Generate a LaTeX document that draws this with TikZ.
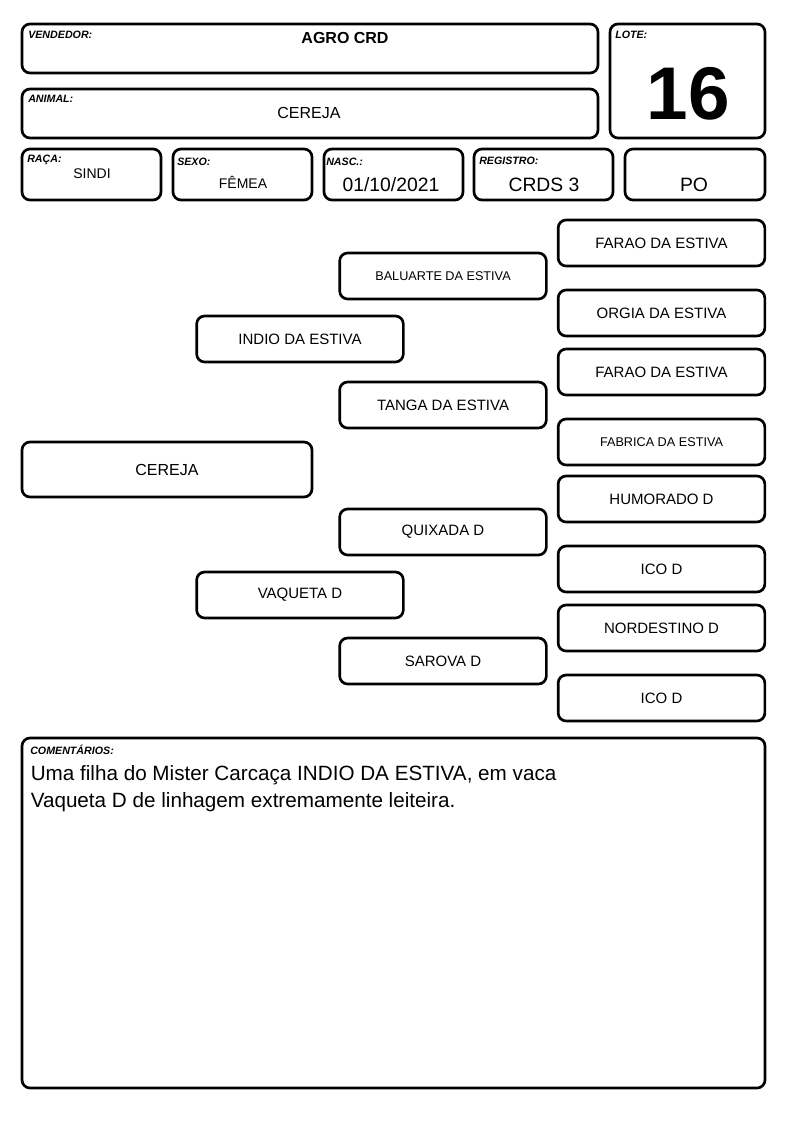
\documentclass[tikz,border=0pt]{standalone}
\usepackage{fontspec}
\setmainfont{Liberation Sans}
\tikzset{
  caixa/.style={line width=2pt, rounded corners=6pt},
  rotulo/.style={anchor=base west, inner sep=0pt, font=\fontsize{8}{9}\selectfont\bfseries\itshape},
  valor/.style={anchor=base, inner sep=0pt},
  ped/.style={draw, line width=2pt, rounded corners=6pt, minimum width=155pt, minimum height=34.5pt, inner sep=0pt, font=\fontsize{11.25}{13}\selectfont},
  pedmenor/.style={ped, font=\fontsize{9.5}{11}\selectfont},
}

\begin{document}
\begin{tikzpicture}[x=0.75pt, y=-0.75pt]

\useasboundingbox (0,0) rectangle (794,1123);

% cabecalho
\draw[caixa] (22,24) rectangle (598,73);
\draw[caixa] (610,24) rectangle (765,138);
\draw[caixa] (22,89) rectangle (598,138);
\draw[caixa] (22,149) rectangle (161,200);
\draw[caixa] (173,149) rectangle (312,200);
\draw[caixa] (324,149) rectangle (463,200);
\draw[caixa] (474,149) rectangle (613,200);
\draw[caixa] (625,149) rectangle (765,200);

\node[rotulo] (lvend) at (28,39) {VENDEDOR:};
\node[rotulo] (llote) at (615,39) {LOTE:};
\node[rotulo] (lanim) at (28,103) {ANIMAL:};
\node[rotulo] (lraca) at (27,163) {RAÇA:};
\node[rotulo] (lsexo) at (177,165.5) {SEXO:};
\node[rotulo] (lnasc) at (326,165.5) {NASC.:};
\node[rotulo] (lreg) at (479,165) {REGISTRO:};

\node[valor, font=\fontsize{12}{14}\selectfont\bfseries] (vend) at (345,43.3) {AGRO CRD};
\node[valor, font=\fontsize{56}{58}\selectfont\bfseries] (lote) at (688.5,120) {16};
\node[valor, font=\fontsize{12}{14}\selectfont] (anim) at (309,119) {CEREJA};
\node[valor, font=\fontsize{10.5}{12}\selectfont] (raca) at (92,178.3) {SINDI};
\node[valor, font=\fontsize{10.5}{12}\selectfont] (sexo) at (243,189) {FÊMEA};
\node[valor, font=\fontsize{14.5}{16}\selectfont] (nasc) at (391,191.5) {01/10/2021};
\node[valor, font=\fontsize{14.5}{16}\selectfont] (reg) at (544,191.5) {CRDS 3};
\node[valor, font=\fontsize{14.5}{16}\selectfont] (tipo) at (694,191.5) {PO};

% genealogia
\node[ped, minimum width=217.5pt, minimum height=41.25pt, font=\fontsize{12}{14}\selectfont] (cereja) at (167,469.5) {CEREJA};

\node[ped] (indio) at (300,339) {INDIO DA ESTIVA};
\node[ped] (vaqueta) at (300,595) {VAQUETA D};

\node[pedmenor] (baluarte) at (443,276) {BALUARTE DA ESTIVA};
\node[ped] (tanga) at (443,405) {TANGA DA ESTIVA};
\node[ped] (quixada) at (443,532) {QUIXADA D};
\node[ped] (sarova) at (443,661) {SAROVA D};

\node[ped] (farao1) at (661.5,243) {FARAO DA ESTIVA};
\node[ped] (orgia) at (661.5,313) {ORGIA DA ESTIVA};
\node[ped] (farao2) at (661.5,372) {FARAO DA ESTIVA};
\node[pedmenor] (fabrica) at (661.5,442) {FABRICA DA ESTIVA};
\node[ped] (humorado) at (661.5,499) {HUMORADO D};
\node[ped] (ico1) at (661.5,569) {ICO D};
\node[ped] (nordestino) at (661.5,628) {NORDESTINO D};
\node[ped] (ico2) at (661.5,698) {ICO D};

% comentarios
\draw[caixa] (22,738) rectangle (765,1088);
\node[rotulo] (lcoment) at (30,754) {COMENTÁRIOS:};
\node[anchor=base west, inner sep=0pt, font=\fontsize{15.5}{20}\selectfont] (coment1) at (30.5,780) {Uma filha do Mister Carcaça INDIO DA ESTIVA, em vaca};
\node[anchor=base west, inner sep=0pt, font=\fontsize{15.5}{20}\selectfont] (coment2) at (30.5,807) {Vaqueta D de linhagem extremamente leiteira.};

\end{tikzpicture}
\end{document}
